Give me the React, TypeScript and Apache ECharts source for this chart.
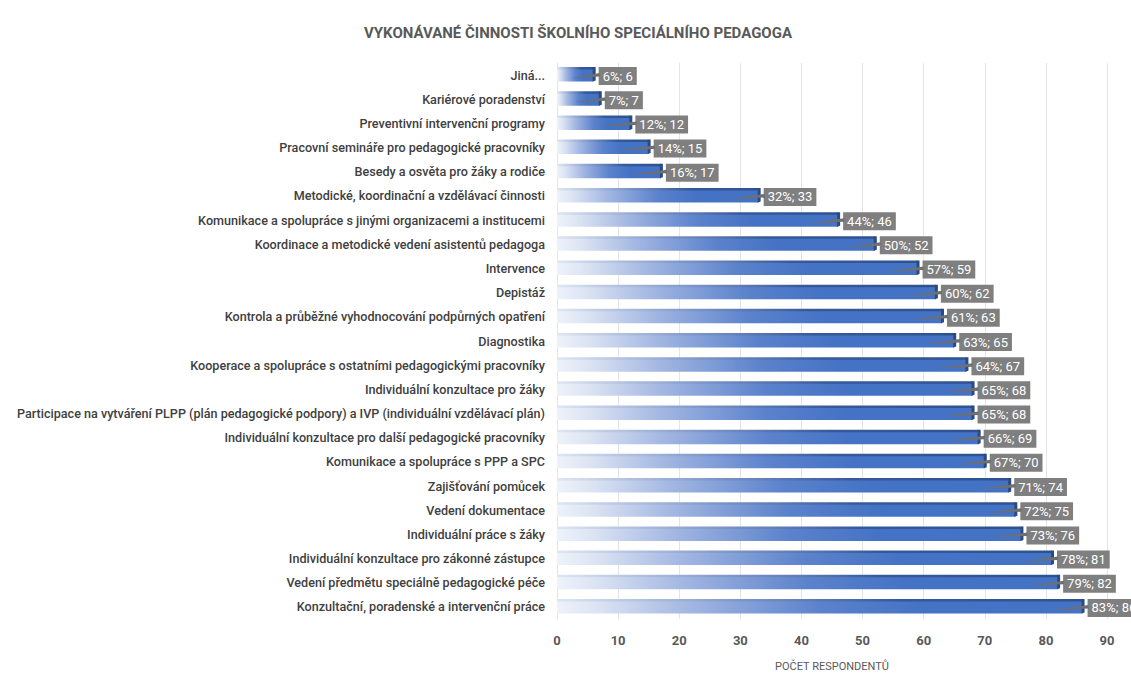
import React, { useEffect, useRef } from "react";
import * as echarts from "echarts";

const categories = [
  "Jiná...",
  "Kariérové poradenství",
  "Preventivní intervenční programy",
  "Pracovní semináře pro pedagogické pracovníky",
  "Besedy a osvěta pro žáky a rodiče",
  "Metodické, koordinační a vzdělávací činnosti",
  "Komunikace a spolupráce s jinými organizacemi a institucemi",
  "Koordinace a metodické vedení asistentů pedagoga",
  "Intervence",
  "Depistáž",
  "Kontrola a průběžné vyhodnocování podpůrných opatření",
  "Diagnostika",
  "Kooperace a spolupráce s ostatními pedagogickými pracovníky",
  "Individuální konzultace pro žáky",
  "Participace na vytváření PLPP (plán pedagogické podpory) a IVP (individuální vzdělávací plán)",
  "Individuální konzultace pro další pedagogické pracovníky",
  "Komunikace a spolupráce s PPP a SPC",
  "Zajišťování pomůcek",
  "Vedení dokumentace",
  "Individuální práce s žáky",
  "Individuální konzultace pro zákonné zástupce",
  "Vedení předmětu speciálně pedagogické péče",
  "Konzultační, poradenské a intervenční práce",
];

const counts = [6, 7, 12, 15, 17, 33, 46, 52, 59, 62, 63, 65, 67, 68, 68, 69, 70, 74, 75, 76, 81, 82, 86];
const percents = [6, 7, 12, 14, 16, 32, 44, 50, 57, 60, 61, 63, 64, 65, 65, 66, 67, 71, 72, 73, 78, 79, 83];

const xTicks = { min: 0, max: 90, interval: 10 };

const TITLE = "VYKONÁVANÉ ČINNOSTI ŠKOLNÍHO SPECIÁLNÍHO PEDAGOGA";
const X_NAME = "POČET RESPONDENTŮ";

export default function App() {
  const ref = useRef<HTMLDivElement>(null);

  useEffect(() => {
    if (!ref.current) return;
    const chart = echarts.init(ref.current, undefined, { renderer: "svg" });
    const font = "Roboto, 'Open Sans', sans-serif";

    const barGradient = new echarts.graphic.LinearGradient(0, 0, 1, 0, [
      { offset: 0, color: "#eef2fa" },
      { offset: 0.08, color: "#dbe3f3" },
      { offset: 0.25, color: "#a3b7e2" },
      { offset: 0.5, color: "#5b82cc" },
      { offset: 0.7, color: "#4472C4" },
      { offset: 1, color: "#4472C4" },
    ]);

    const option: any = {
      animation: false,
      backgroundColor: "#ffffff",
      title: {
        text: TITLE,
        left: 573,
        top: 20,
        textAlign: "center",
        textStyle: {
          fontFamily: font,
          fontSize: 15,
          fontWeight: "bold",
          color: "#595959",
        },
      },
      grid: { left: 557, right: 24, top: 63, bottom: 51 },
      xAxis: {
        type: "value",
        min: xTicks.min,
        max: xTicks.max,
        interval: xTicks.interval,
        name: X_NAME,
        nameLocation: "middle",
        nameGap: 42,
        nameTextStyle: { fontFamily: font, fontSize: 11, color: "#595959" },
        axisLine: { show: false },
        axisTick: { show: false },
        axisLabel: {
          fontFamily: font,
          fontSize: 13,
          fontWeight: "bold",
          color: "#595959",
          margin: 15,
        },
        splitLine: { show: true, lineStyle: { color: "#e4e4e4", width: 1 } },
      },
      yAxis: {
        type: "category",
        data: categories,
        inverse: true,
        axisLine: { show: false },
        axisTick: { show: false },
        axisLabel: {
          fontFamily: font,
          fontSize: 12.6,
          fontWeight: 500,
          color: "#404040",
          margin: 12,
        },
      },
      series: [
        {
          type: "bar",
          data: counts,
          barWidth: 13,
          z: 2,
          itemStyle: { color: barGradient },
          label: {
            show: true,
            position: "right",
            distance: 5,
            formatter: (p: any) => `${percents[p.dataIndex]}%; ${p.value}`,
            backgroundColor: "#7f7f7f",
            color: "#ffffff",
            fontFamily: font,
            fontSize: 13,
            padding: [3, 4, 2, 4],
            offset: [0, 1],
          },
        },
        {
          type: "custom",
          z: 3,
          silent: true,
          data: counts.map((v, i) => [v, i]),
          encode: { x: 0, y: 1 },
          renderItem: (params: any, api: any) => {
            const v = api.value(0);
            const idx = api.value(1);
            const end = api.coord([v, idx]);
            const start = api.coord([0, idx]);
            const y0 = end[1] - 6.5;
            const len = end[0] - start[0];
            return {
              type: "group",
              children: [
                {
                  type: "rect",
                  shape: { x: start[0], y: y0 - 1.5, width: len, height: 2.5 },
                  style: {
                    fill: new echarts.graphic.LinearGradient(0, 0, 1, 0, [
                      { offset: 0, color: "#dfe6f3" },
                      { offset: 0.35, color: "#7d96c9" },
                      { offset: 0.65, color: "#35599c" },
                      { offset: 1, color: "#2f528f" },
                    ]),
                  },
                },
                {
                  type: "polygon",
                  shape: {
                    points: [
                      [end[0] - 1, y0 - 1.5],
                      [end[0] + 2, y0 - 1.5],
                      [end[0] + 2, y0 + 12],
                      [end[0] - 1, y0 + 13],
                    ],
                  },
                  style: { fill: "#2b4a84" },
                },
                {
                  type: "polygon",
                  shape: {
                    points: [
                      [end[0] - Math.min(30, len * 0.6), end[1] + 3],
                      [end[0] + 6, end[1] - 2],
                      [end[0] + 6, end[1] + 1.5],
                    ],
                  },
                  style: { fill: "#6f6f6f" },
                },
              ],
            };
          },
        },
      ],
    };

    chart.setOption(option);
    return () => chart.dispose();
  }, []);

  return (
    <div
      ref={ref}
      style={{ position: "fixed", left: 0, top: 0, width: 1131, height: 677 }}
    />
  );
}
